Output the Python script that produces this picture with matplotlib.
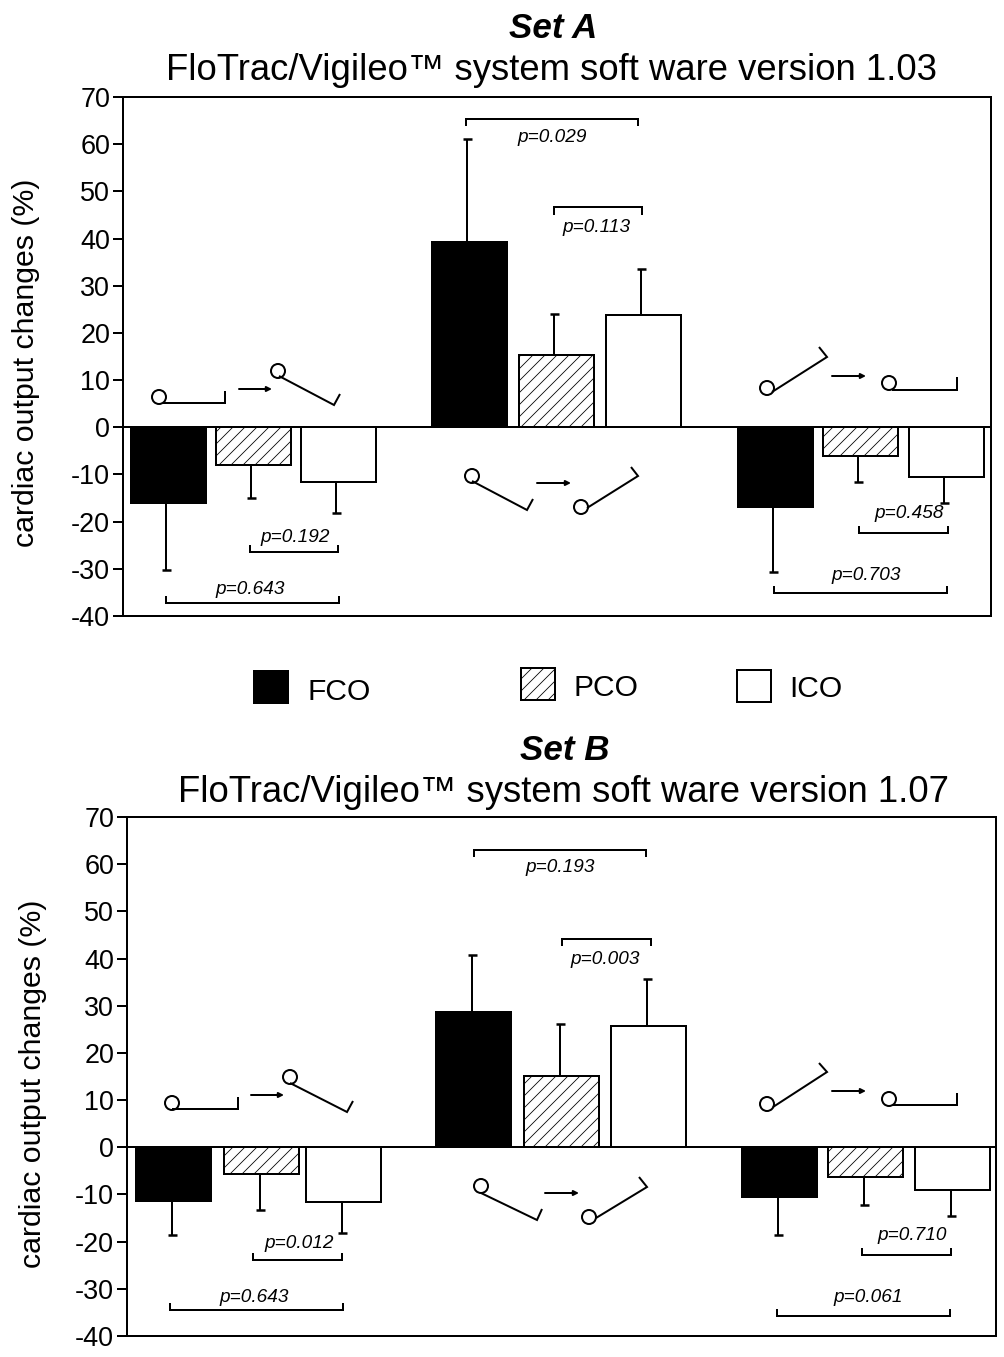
import numpy as np
import matplotlib
matplotlib.use("Agg")
import matplotlib.pyplot as plt
from matplotlib.patches import Circle, Rectangle, FancyArrowPatch
from matplotlib.transforms import Affine2D

W, H = 1004, 1357
plt.rcParams['font.family'] = ['Liberation Sans', 'DejaVu Sans']
plt.rcParams['hatch.linewidth'] = 0.8
plt.rcParams['axes.unicode_minus'] = False

# bar values, order is FCO, PCO, ICO in each of the 3 groups
fco_a = [-16, 39.3, -17]
pco_a = [-8, 15.3, -6]
ico_a = [-11.5, 23.8, -10.5]
fco_b = [-11.3, 28.6, -10.5]
pco_b = [-5.7, 15.2, -6.2]
ico_b = [-11.5, 25.8, -9]

# where the error bars end
fco_err_a = [-30.3, 61.2, -30.7]
pco_err_a = [-15, 24, -11.5]
ico_err_a = [-18.2, 33.5, -16]
fco_err_b = [-18.5, 40.8, -18.5]
pco_err_b = [-13.2, 26.2, -12.3]
ico_err_b = [-18.2, 35.7, -14.5]

series_names = ['FCO', 'PCO', 'ICO']
y_ticks = [70, 60, 50, 40, 30, 20, 10, 0, -10, -20, -30, -40]
p_labels_a = ['p=0.029', 'p=0.113', 'p=0.192', 'p=0.643', 'p=0.458', 'p=0.703']
p_labels_b = ['p=0.193', 'p=0.003', 'p=0.012', 'p=0.643', 'p=0.710', 'p=0.061']

# dpi 72 so 1pt = 1px
fig = plt.figure(figsize=(W / 72, H / 72), dpi=72)
# annotations are placed in image pixels, y going down
px = Affine2D().scale(1, -1).translate(0, H)


def hatch_kw(i):
    if i == 0:
        return dict(facecolor='black', edgecolor='black')
    if i == 1:
        return dict(facecolor='white', edgecolor='black', hatch='//')
    return dict(facecolor='white', edgecolor='black')


def line(xs, ys, lw=2.0):
    fig.add_artist(plt.Line2D(xs, ys, color='black', lw=lw, transform=px,
                              solid_capstyle='butt', solid_joinstyle='miter'))


def bracket(x0, x1, y, tip):
    line([x0, x0, x1, x1], [tip, y, y, tip])


def lever(cx, cy, xs, ys):
    fig.add_artist(Circle((cx, cy), 7, transform=px, fc='white', ec='black', lw=2))
    line(xs, ys)


def arrow(x0, x1, y):
    fig.add_artist(FancyArrowPatch((x0, y), (x1, y), transform=px, arrowstyle='-|>',
                                   mutation_scale=10, lw=2, color='black',
                                   shrinkA=0, shrinkB=0))


def ptext(x, y, s):
    fig.text(x, y, s, transform=px, fontsize=19, style='italic', ha='center', va='center')


def panel(box, bar_x, err_shift, values, errs):
    left, right, top, bottom = box
    ax = fig.add_axes([left / W, 1 - bottom / H, (right - left) / W, (bottom - top) / H])
    for i in range(3):
        xs = [g[i] for g in bar_x]
        ax.bar(xs, values[i], width=75, linewidth=2, zorder=2, **hatch_kw(i))
        ex = np.array(xs) + err_shift
        ax.vlines(ex, values[i], errs[i], color='black', lw=2, zorder=1)
        ax.plot(ex, errs[i], ls='none', marker='_', ms=9, mew=2.5, color='black', zorder=1)
    ax.axhline(0, color='black', lw=2, zorder=3)
    ax.set_xlim(left, right)
    ax.set_ylim(-40, 70)
    ax.set_xticks([])
    ax.set_yticks(y_ticks)
    ax.tick_params(axis='y', length=10, width=2, labelsize=27, pad=3)
    for s in ax.spines.values():
        s.set_linewidth(2)
    return ax


# Set A
panel((123, 991, 97, 616),
      [[168, 253, 338], [469, 556, 643], [775, 860, 946]], -2,
      [fco_a, pco_a, ico_a], [fco_err_a, pco_err_a, ico_err_a])

fig.text(553, 29, 'Set A', transform=px, fontsize=35, weight='bold', style='italic', ha='center', va='center')
fig.text(551, 70, 'FloTrac/Vigileo™ system soft ware version 1.03', transform=px, fontsize=36.5, ha='center', va='center')
fig.text(26, 363, 'cardiac output changes (%)', transform=px, fontsize=30.3, rotation=90, ha='center', va='center')

lever(159, 397, [163, 225, 225], [403, 403, 391])
arrow(239, 272, 389)
lever(278, 371, [279, 334, 340], [376, 405, 394])
lever(472, 476, [472, 527, 533], [481, 510, 499])
arrow(537, 571, 483)
lever(581, 507, [587, 638, 631], [508, 476, 467])
lever(767, 388, [772, 827, 819], [392, 357, 347])
arrow(832, 866, 376)
lever(889, 383, [892, 957, 957], [390, 390, 377])

bracket(466, 638, 119, 126)
bracket(554, 642, 207, 215)
bracket(250, 338, 552, 545)
bracket(166, 339, 603, 596)
bracket(859, 948, 533, 526)
bracket(774, 947, 593, 586)
for (x, y), s in zip([(552, 137), (597, 228), (295, 537), (250, 590), (909, 514), (866, 576)], p_labels_a):
    ptext(x, y, s)

# Set B
panel((127, 996, 817, 1336),
      [[173, 261, 343], [473, 561, 648], [779, 865, 952]], -1,
      [fco_b, pco_b, ico_b], [fco_err_b, pco_err_b, ico_err_b])

fig.text(565, 751, 'Set B', transform=px, fontsize=35, weight='bold', style='italic', ha='center', va='center')
fig.text(564, 792, 'FloTrac/Vigileo™ system soft ware version 1.07', transform=px, fontsize=36.5, ha='center', va='center')
fig.text(33, 1084, 'cardiac output changes (%)', transform=px, fontsize=30.3, rotation=90, ha='center', va='center')

lever(172, 1103, [172, 237.5, 237.5], [1109, 1109, 1097])
arrow(251, 284, 1095)
lever(290, 1077, [290, 347, 353], [1083, 1112, 1101])
lever(481, 1186, [481, 537, 542], [1193, 1220, 1209])
arrow(545, 579, 1193)
lever(589, 1217, [596, 647, 639], [1218, 1187, 1177])
lever(767, 1104, [773, 827, 819], [1107, 1072, 1063])
arrow(832, 866, 1091)
lever(889, 1099, [892, 957, 957], [1105, 1105, 1093])

bracket(474, 646, 850, 857)
bracket(562, 651, 939, 946)
bracket(253, 342, 1260, 1253)
bracket(170, 343, 1310, 1303)
bracket(862, 951, 1255, 1248)
bracket(777, 950, 1316, 1309)
for (x, y), s in zip([(560, 868), (605, 959), (299, 1244), (254, 1297), (912, 1236), (868, 1298)], p_labels_b):
    ptext(x, y, s)

# legend between the panels, laid out by hand like the original
for i, (sx, sy, tx, ty) in enumerate([(254, 671, 308, 692), (521, 668, 573, 688), (737, 670, 789, 689)]):
    fig.add_artist(Rectangle((sx, sy), 34, 32, transform=px, linewidth=2, **hatch_kw(i)))
    fig.text(tx, ty, series_names[i], transform=px, fontsize=30, ha='left', va='center')

plt.savefig("out.png")
